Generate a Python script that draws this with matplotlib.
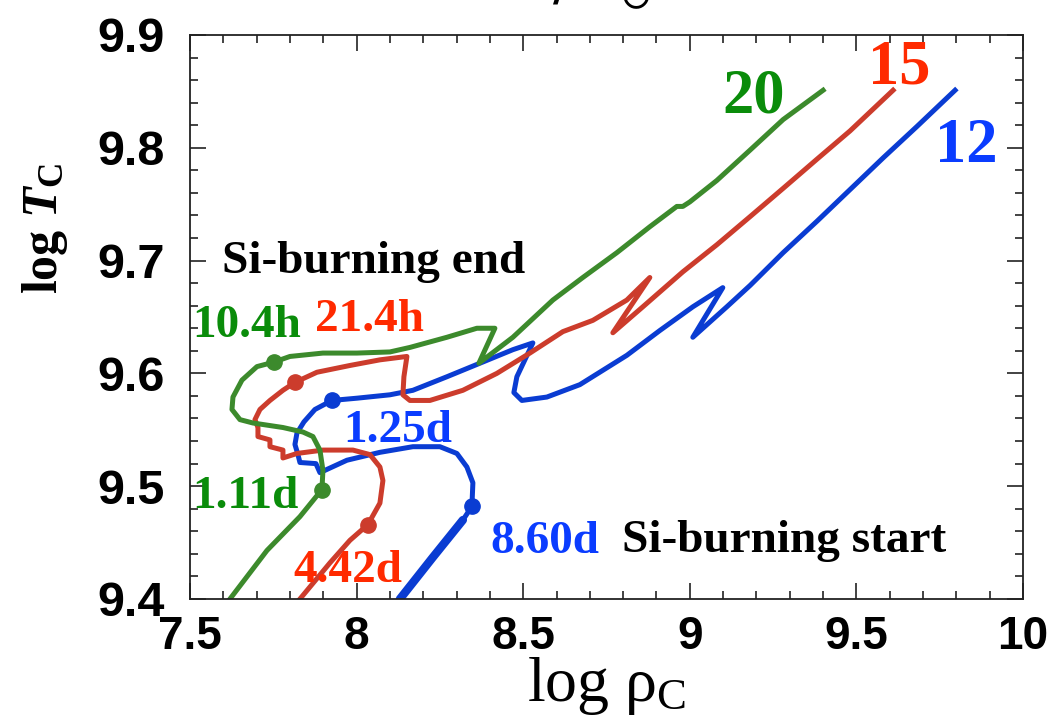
import matplotlib
matplotlib.use("Agg")
import matplotlib.pyplot as plt
from matplotlib import font_manager
from matplotlib.ticker import MultipleLocator

# central density / temperature tracks (log rho_C, log T_C) for 20, 15 and 12 Msun
rho_20 = [7.620, 7.731, 7.830, 7.896, 7.899, 7.890, 7.869, 7.839, 7.779, 7.689,
          7.650, 7.626, 7.629, 7.656, 7.701, 7.752, 7.800, 7.899, 8.001, 8.100,
          8.160, 8.271, 8.361, 8.415, 8.367, 8.469, 8.589, 8.679, 8.781, 8.880,
          8.961, 8.979, 9.000, 9.081, 9.181, 9.280, 9.400]
T_20 = [9.400, 9.443, 9.473, 9.497, 9.514, 9.532, 9.544, 9.548, 9.552, 9.556,
        9.559, 9.568, 9.579, 9.594, 9.606, 9.610, 9.615, 9.618, 9.618, 9.619,
        9.623, 9.632, 9.640, 9.640, 9.609, 9.632, 9.665, 9.685, 9.707, 9.730,
        9.748, 9.748, 9.752, 9.771, 9.798, 9.825, 9.851]

rho_15 = [7.830, 7.920, 7.980, 8.034, 8.070, 8.079, 8.070, 8.040, 7.989, 7.899,
          7.821, 7.779, 7.779, 7.740, 7.740, 7.704, 7.704, 7.695, 7.710, 7.740,
          7.779, 7.815, 7.881, 7.980, 8.070, 8.151, 8.142, 8.139, 8.160, 8.220,
          8.319, 8.421, 8.520, 8.619, 8.709, 8.811, 8.880, 8.769, 8.859, 8.979,
          9.081, 9.181, 9.280, 9.382, 9.481, 9.610]
T_15 = [9.400, 9.432, 9.452, 9.466, 9.485, 9.505, 9.517, 9.528, 9.532, 9.532,
        9.529, 9.525, 9.532, 9.535, 9.541, 9.544, 9.552, 9.559, 9.568, 9.576,
        9.585, 9.592, 9.601, 9.607, 9.612, 9.615, 9.597, 9.581, 9.576, 9.576,
        9.585, 9.600, 9.618, 9.637, 9.647, 9.665, 9.685, 9.636, 9.659, 9.690,
        9.714, 9.739, 9.764, 9.790, 9.815, 9.851]

rho_12 = [8.130, 8.229, 8.319, 8.346, 8.349, 8.331, 8.301, 8.250, 8.169, 8.070,
          7.971, 7.890, 7.878, 7.830, 7.824, 7.815, 7.821, 7.842, 7.875, 7.926,
          8.001, 8.100, 8.169, 8.271, 8.370, 8.469, 8.529, 8.481, 8.472, 8.496,
          8.571, 8.670, 8.811, 8.910, 9.009, 9.099, 9.009, 9.111, 9.181, 9.280,
          9.382, 9.481, 9.580, 9.682, 9.796]
T_12 = [9.400, 9.437, 9.470, 9.482, 9.503, 9.517, 9.529, 9.535, 9.535, 9.530,
        9.523, 9.512, 9.520, 9.521, 9.528, 9.537, 9.547, 9.557, 9.568, 9.576,
        9.578, 9.581, 9.585, 9.597, 9.609, 9.621, 9.627, 9.597, 9.583, 9.576,
        9.579, 9.590, 9.616, 9.638, 9.659, 9.676, 9.632, 9.659, 9.678, 9.707,
        9.735, 9.763, 9.791, 9.819, 9.851]

# marked epochs before collapse
mark_20 = {"rho": [7.752, 7.896], "T": [9.610, 9.497], "txt": ["10.4h", "1.11d"]}
mark_15 = {"rho": [7.815, 8.034], "T": [9.592, 9.466], "txt": ["21.4h", "4.42d"]}
mark_12 = {"rho": [7.926, 8.346], "T": [9.576, 9.482], "txt": ["1.25d", "8.60d"]}

masses = ["20", "15", "12"]

GREEN_LINE, GREEN_TXT = "#3c8a2c", "#0a8c0a"
RED_LINE, RED_TXT = "#cc3c2c", "#ff2a00"
BLUE_LINE, BLUE_TXT = "#0a3cd2", "#0a3cff"

installed = {f.name for f in font_manager.fontManager.ttflist}
narrow = "Liberation Sans Narrow" if "Liberation Sans Narrow" in installed else "Liberation Sans"

plt.rcParams["mathtext.fontset"] = "custom"
plt.rcParams["mathtext.rm"] = "Liberation Serif"
plt.rcParams["mathtext.bf"] = "Liberation Serif:bold"
plt.rcParams["mathtext.it"] = "Liberation Serif:italic:bold"

fig = plt.figure(figsize=(10.56, 7.27), dpi=100)
ax = fig.add_axes([0.1799, 0.1761, 0.7889, 0.7758])

LW = 3.6
ax.plot(rho_12[:3], T_12[:3], color=BLUE_LINE, lw=6, solid_capstyle="round")
ax.plot(rho_12, T_12, color=BLUE_LINE, lw=LW)
ax.plot(rho_15, T_15, color=RED_LINE, lw=LW)
ax.plot(rho_20, T_20, color=GREEN_LINE, lw=LW)
ax.plot(mark_12["rho"], mark_12["T"], "o", color=BLUE_LINE, ms=11, ls="none")
ax.plot(mark_15["rho"], mark_15["T"], "o", color=RED_LINE, ms=11, ls="none")
ax.plot(mark_20["rho"], mark_20["T"], "o", color=GREEN_LINE, ms=11, ls="none")

ax.set_xlim(7.5, 10)
ax.set_ylim(9.4, 9.9)
ax.xaxis.set_major_locator(MultipleLocator(0.5))
ax.xaxis.set_minor_locator(MultipleLocator(0.1))
ax.yaxis.set_major_locator(MultipleLocator(0.1))
ax.yaxis.set_minor_locator(MultipleLocator(0.02))
ax.set_xticks([7.5, 8, 8.5, 9, 9.5, 10], ["7.5", "8", "8.5", "9", "9.5", "10"])
ax.set_yticks([9.4, 9.5, 9.6, 9.7, 9.8, 9.9], ["9.4", "9.5", "9.6", "9.7", "9.8", "9.9"])
ax.tick_params(which="both", direction="in", top=True, right=True, width=1.2, color="#222222")
ax.tick_params(which="major", length=11.5)
ax.tick_params(which="minor", length=6)
ax.tick_params(axis="x", which="major", pad=11.5)
ax.tick_params(axis="y", which="major", pad=18)
for lab in ax.get_xticklabels():
    lab.set_fontfamily(narrow)
    lab.set_fontweight("bold")
    lab.set_fontsize(33)
for lab in ax.get_yticklabels():
    lab.set_fontfamily("Liberation Sans")
    lab.set_fontweight("bold")
    lab.set_fontsize(35)
for sp in ax.spines.values():
    sp.set_linewidth(1.3)
    sp.set_color("#222222")

ax.set_xlabel("log ρ$_{\\mathrm{C}}$", fontfamily="Liberation Serif", fontsize=46)
ax.xaxis.set_label_coords(0.5, -0.1)
ax.set_ylabel("log $T_{\\mathbf{C}}$", fontfamily="Liberation Serif",
              fontweight="bold", fontsize=36)
ax.yaxis.set_label_coords(-0.144, 0.658)

serif_bold = dict(fontfamily="Liberation Serif", fontweight="bold", va="baseline", ha="left")
ax.text(7.596, 9.689, "Si-burning end", color="black", fontsize=34, **serif_bold)
ax.text(8.796, 9.442, "Si-burning start", color="black", fontsize=34, **serif_bold)

label_pos = {
    "10.4h": (7.506, 9.632), "1.11d": (7.506, 9.481),
    "21.4h": (7.875, 9.638), "4.42d": (7.809, 9.415),
    "1.25d": (7.959, 9.539), "8.60d": (8.400, 9.441),
}
for mk, col in [(mark_20, GREEN_TXT), (mark_15, RED_TXT), (mark_12, BLUE_TXT)]:
    for t in mk["txt"]:
        x, y = label_pos[t]
        ax.text(x, y, t, color=col, fontsize=34, **serif_bold)

mass_pos = [(9.099, 9.831), (9.535, 9.857), (9.736, 9.787)]
for m, (x, y), col in zip(masses, mass_pos, [GREEN_TXT, RED_TXT, BLUE_TXT]):
    ax.text(x, y, m, color=col, fontsize=45, clip_on=False, **serif_bold)

fig.text(505 / 1056, 1.0 + 1 / 727, "$M/M_{\\odot}$", fontsize=40, ha="left", va="baseline",
         math_fontfamily="dejavusans")

fig.savefig("out.png", dpi=100)
